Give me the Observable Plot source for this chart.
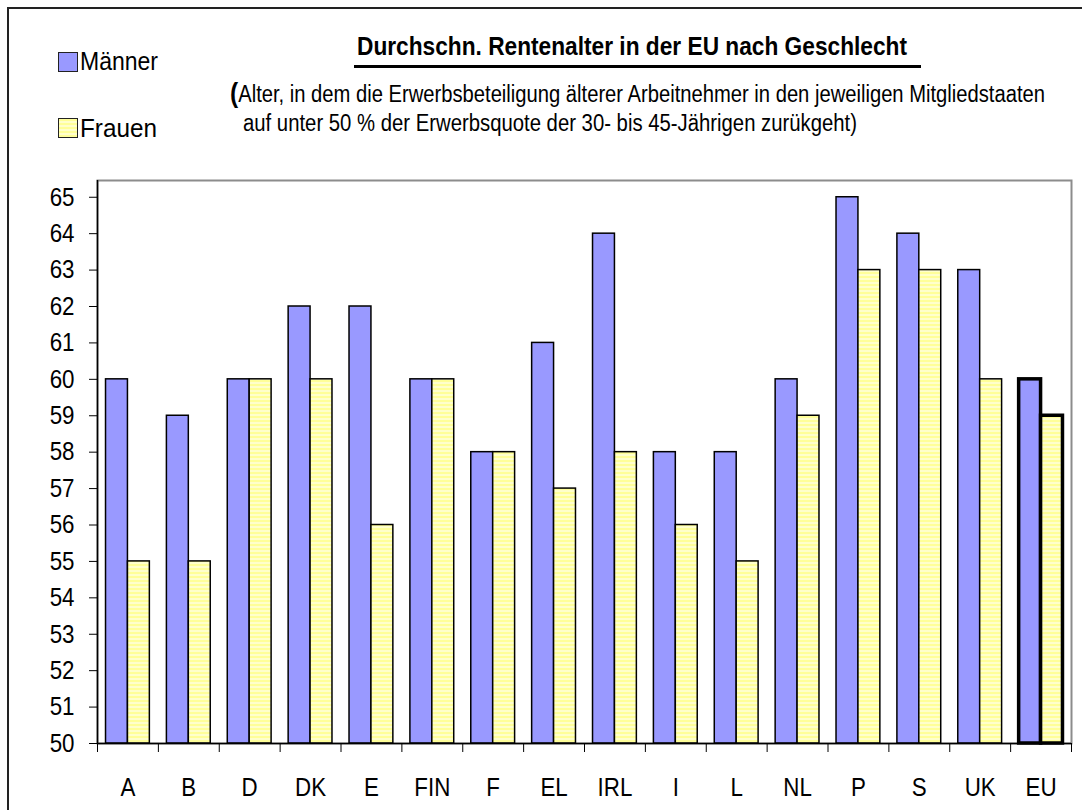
<!DOCTYPE html>
<html>
<head>
<meta charset="utf-8">
<script src="https://cdn.jsdelivr.net/npm/d3@7"></script>
<script src="https://cdn.jsdelivr.net/npm/@observablehq/plot@0.6"></script>
<style>
  html, body { margin: 0; padding: 0; background: #fff; }
  body { width: 1082px; height: 810px; position: relative; overflow: hidden;
         font-family: "Liberation Sans", Arial, sans-serif; color: #000; }
  #frame { position: absolute; left: 7px; top: 7px; width: 1100px; height: 900px; border: 2px solid #222; box-sizing: border-box; }
  .txt { position: absolute; white-space: pre; line-height: 1; transform-origin: 0 0; display: inline-block; }
  .sw { position: absolute; width: 20px; height: 20px; border: 1.5px solid #222; box-sizing: border-box; }
  #uline { position: absolute; left: 354px; top: 65px; width: 567px; height: 3px; background: #000; }
  #chart { position: absolute; left: 0; top: 160px; }
</style>
</head>
<body>
<div id="frame"></div>
<div class="sw" style="left:58px;top:52px;background:#9999FF"></div>
<span class="txt" data-w="78" style="left:80px;top:49px;font-size:25px">Männer</span>
<div class="sw" style="left:58px;top:118px;background:repeating-linear-gradient(#FFFF99 0 2px,#FFFFCC 2px 4px)"></div>
<span class="txt" data-w="77" style="left:80px;top:116px;font-size:25px">Frauen</span>
<span class="txt" data-w="550" style="left:357px;top:32.6px;font-size:26.5px;font-weight:bold">Durchschn. Rentenalter in der EU nach Geschlecht</span>
<div id="uline"></div>
<span class="txt" data-w="815" style="left:230px;top:82.5px;font-size:23px"><b style="font-size:28px;line-height:0">(</b>Alter, in dem die Erwerbsbeteiligung älterer Arbeitnehmer in den jeweiligen Mitgliedstaaten</span>
<span class="txt" data-w="614" style="left:243px;top:111.5px;font-size:23px">auf unter 50 % der Erwerbsquote der 30- bis 45-Jährigen zurükgeht)</span>
<div id="chart"></div>
<script>
const countries = ["A","B","D","DK","E","FIN","F","EL","IRL","I","L","NL","P","S","UK","EU"];
const maenner   = [60, 59, 60, 62, 62, 60, 58, 61, 64, 58, 58, 60, 65, 64, 63, 60];
const frauen    = [55, 55, 60, 60, 56, 60, 58, 57, 58, 56, 55, 59, 63, 63, 60, 59];
const yTicks    = [50,51,52,53,54,55,56,57,58,59,60,61,62,63,64,65];
const baseline  = 50;
const yMax      = 65.46;

// narrow-font look for HTML texts: scale each to its measured width
document.querySelectorAll(".txt[data-w]").forEach(el => {
  const w = el.getBoundingClientRect().width;
  el.style.transform = `scaleX(${(+el.dataset.w) / w})`;
});

const W = 1082, H = 650, ML = 97, MR = 11, MT = 20, MB = 67;
const step = (W - ML - MR) / countries.length;   // one band per country, no padding
const gap = 0.14 * step;                          // white space on each side of a bar pair
const barW = (step - 2 * gap) / 2;                // width of one bar

const plot = Plot.plot({
  width: W, height: H,
  marginLeft: ML, marginRight: MR, marginTop: MT, marginBottom: MB,
  style: { fontFamily: '"Liberation Sans", Arial, sans-serif', fontSize: "26px", color: "#000", background: "transparent", overflow: "visible" },
  x: { type: "band", domain: countries, padding: 0, round: false, label: null },
  y: { domain: [baseline, yMax], label: null },
  marks: [
    Plot.frame({ stroke: "#8c8c8c", strokeWidth: 2 }),
    Plot.barY(countries, { x: d => d, y1: baseline, y2: (d, i) => maenner[i],
      fill: "#9999FF", stroke: "#000", strokeWidth: d => d === "EU" ? 3.5 : 1.5,
      insetLeft: gap, insetRight: gap + barW }),
    Plot.barY(countries, { x: d => d, y1: baseline, y2: (d, i) => frauen[i],
      fill: "url(#stripes)", stroke: "#000", strokeWidth: d => d === "EU" ? 3.5 : 1.5,
      insetLeft: gap + barW, insetRight: gap }),
    Plot.ruleX([countries[0]], { x: d => d, dx: -step / 2, stroke: "#000", strokeWidth: 1.5 }),
    Plot.ruleY([baseline], { stroke: "#000", strokeWidth: 1.5 }),
    Plot.axisY({ ticks: yTicks, tickSize: 8, tickPadding: 15, tickFormat: d => String(d), label: null }),
    Plot.axisX({ ticks: countries, tickSize: 0, tickPadding: 34, label: null }),
    Plot.axisX({ ticks: countries, tickSize: 9, tickFormat: () => "", label: null, dx: -step / 2 }),
    Plot.axisX({ ticks: [countries[countries.length - 1]], tickSize: 9, tickFormat: () => "", label: null, dx: step / 2 })
  ]
});

// striped fill pattern for "Frauen"
const defs = d3.select(plot).insert("defs", ":first-child");
const pat = defs.append("pattern").attr("id", "stripes").attr("patternUnits", "userSpaceOnUse")
  .attr("width", 8).attr("height", 4);
pat.append("rect").attr("width", 8).attr("height", 4).attr("fill", "#FFFF99");
pat.append("rect").attr("y", 2).attr("width", 8).attr("height", 2).attr("fill", "#FFFFCC");

// narrow the tick labels (Arial Narrow look)
d3.select(plot).selectAll("text").each(function () {
  const t = this.getAttribute("transform");
  if (t) this.setAttribute("transform", t + " scale(0.86,1)");
  else {
    const x = +this.getAttribute("x") || 0, y = +this.getAttribute("y") || 0;
    this.removeAttribute("x"); this.removeAttribute("y");
    this.setAttribute("transform", `translate(${x},${y}) scale(0.86,1)`);
  }
});

document.getElementById("chart").appendChild(plot);
</script>
</body>
</html>
